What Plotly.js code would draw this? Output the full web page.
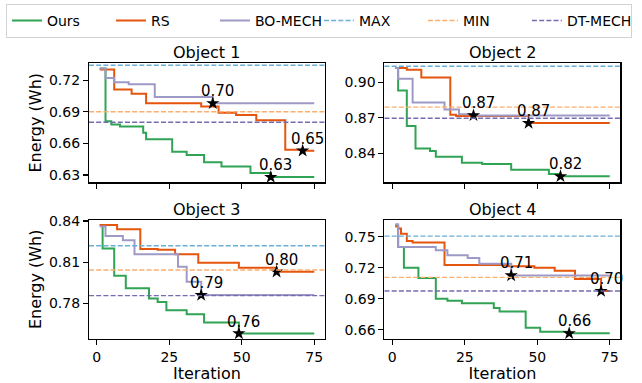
<!DOCTYPE html>
<html><head><meta charset="utf-8">
<script src="https://cdn.plot.ly/plotly-3.0.1.min.js"></script>
<style>html,body{margin:0;padding:0;background:#fff}#chart{width:642px;height:383px}</style>
</head><body><div id="chart"></div>
<script>
// ---- data ----
const objectNames = ['Object 1', 'Object 2', 'Object 3', 'Object 4'];
const iterTicks = [0, 25, 50, 75];

// Ours: iteration where best-so-far changes, and its energy (Wh)
const oursIter = [
  [1, 3, 5, 8, 16, 17, 26, 31, 37, 43, 53, 60, 75],
  [1, 2, 5, 8, 13, 15, 24, 31, 41, 54, 58, 75],
  [1, 2, 6, 10, 18, 21, 24, 31, 37, 49, 75],
  [1, 2, 4, 9, 15, 19, 24, 35, 37, 46, 51, 61, 75]
];
const oursEnergy = [
  [0.731, 0.681, 0.678, 0.676, 0.670, 0.664, 0.652, 0.649, 0.642, 0.638, 0.632, 0.628, 0.628],
  [0.912, 0.893, 0.863, 0.844, 0.842, 0.837, 0.832, 0.831, 0.826, 0.8225, 0.8205, 0.8205],
  [0.837, 0.820, 0.800, 0.791, 0.7835, 0.781, 0.775, 0.772, 0.766, 0.758, 0.758],
  [0.761, 0.740, 0.720, 0.710, 0.690, 0.688, 0.6855, 0.681, 0.6775, 0.662, 0.658, 0.6565, 0.6565]
];
// RS
const rsIter = [
  [1, 6, 12, 17, 36, 42, 48, 55, 65, 71, 75],
  [1, 5, 10, 20, 22, 47, 75],
  [1, 7, 15, 21, 27, 35, 49, 62, 75],
  [1, 2, 3, 5, 7, 18, 40, 49, 56, 63, 72, 75]
];
const rsEnergy = [
  [0.730, 0.711, 0.707, 0.698, 0.695, 0.689, 0.687, 0.682, 0.654, 0.653, 0.653],
  [0.912, 0.9105, 0.904, 0.8725, 0.8715, 0.8655, 0.8655],
  [0.837, 0.834, 0.8196, 0.819, 0.8157, 0.8096, 0.806, 0.803, 0.803],
  [0.760, 0.758, 0.753, 0.746, 0.7445, 0.7226, 0.7215, 0.720, 0.717, 0.709, 0.6974, 0.6974]
];
// BO-MECH
const boIter = [
  [1, 3, 6, 11, 20, 40, 75],
  [1, 2, 7, 18, 23, 28, 75],
  [1, 3, 9, 13, 28, 31, 36, 75],
  [1, 2, 15, 19, 26, 30, 41, 75]
];
const boEnergy = [
  [0.731, 0.722, 0.718, 0.716, 0.704, 0.698, 0.698],
  [0.912, 0.903, 0.883, 0.877, 0.873, 0.872, 0.872],
  [0.836, 0.829, 0.826, 0.8157, 0.8067, 0.7958, 0.786, 0.786],
  [0.762, 0.740, 0.737, 0.732, 0.7295, 0.7238, 0.7125, 0.7125]
];
// reference levels
const maxLevel = [0.734, 0.9135, 0.822, 0.7506];
const minLevel = [0.690, 0.879, 0.8043, 0.7107];
const dtLevel  = [0.680, 0.8696, 0.7856, 0.6974];
const energyTicks = [
  [0.63, 0.66, 0.69, 0.72],
  [0.84, 0.87, 0.90],
  [0.78, 0.81, 0.84],
  [0.66, 0.69, 0.72, 0.75]
];

// ---- style / layout ----
const FONT = 'DejaVu Sans, Verdana, sans-serif';
const C = {ours: '#31a354', rs: '#e6550d', bo: '#9e9ac8', max: '#6baed6', min: '#fdae6b', dt: '#756bb1'};
const xRange = [-2.7, 78.7];
const yRanges = [[0.6229, 0.7362], [0.8153, 0.9163], [0.754, 0.841], [0.651, 0.7666]];
const xDomains = [[0.1386, 0.5062], [0.5989, 0.9665]];
const yDomains = [[0.5235, 0.8355], [0.1149, 0.4266]];

const traces = [];
const shapes = [];
const annotations = [];
const layout = {
  width: 642, height: 383,
  margin: {l: 0, r: 0, t: 0, b: 0},
  paper_bgcolor: '#fff', plot_bgcolor: '#fff',
  font: {family: FONT, size: 14, color: '#000'},
  showlegend: true,
  legend: {
    orientation: 'h', x: 0.0093, y: 0.99, xanchor: 'left', yanchor: 'top',
    bordercolor: '#d3d3d3', borderwidth: 1, bgcolor: 'rgba(255,255,255,0.8)',
    font: {family: FONT, size: 14, color: '#000'}, itemwidth: 30, traceorder: 'normal',
    entrywidth: 59, entrywidthmode: 'pixels'
  }
};

function bestPoint(it, en) {
  let bi = 0;
  for (let i = 1; i < en.length; i++) if (en[i] < en[bi]) bi = i;
  return [it[bi], en[bi]];
}

for (let k = 0; k < 4; k++) {
  const n = k === 0 ? '' : String(k + 1);
  const col = k % 2, row = Math.floor(k / 2);
  const xa = 'x' + n, ya = 'y' + n;
  layout['xaxis' + n] = {
    domain: xDomains[col], range: xRange, anchor: ya,
    tickvals: iterTicks, showticklabels: row === 1,
    ticks: 'outside', ticklen: 5, tickwidth: 1.1, tickcolor: '#000',
    showline: true, mirror: true, linecolor: '#000', linewidth: 1.1,
    showgrid: false, zeroline: false,
    tickfont: {family: FONT, size: 14, color: '#000'},
    title: row === 1 ? {text: 'Iteration', font: {family: FONT, size: 16, color: '#000'}, standoff: 1} : {text: ''}
  };
  layout['yaxis' + n] = {
    domain: yDomains[row], range: yRanges[k], anchor: xa,
    tickvals: energyTicks[k], tickformat: '.2f',
    ticks: 'outside', ticklen: 5, tickwidth: 1.1, tickcolor: '#000',
    showline: true, mirror: true, linecolor: '#000', linewidth: 1.1,
    showgrid: false, zeroline: false,
    tickfont: {family: FONT, size: 14, color: '#000'},
    title: col === 0 ? {text: 'Energy (Wh)', font: {family: FONT, size: 16, color: '#000'}, standoff: 3} : {text: ''}
  };
  const series = [
    ['Ours', oursIter[k], oursEnergy[k], C.ours],
    ['RS', rsIter[k], rsEnergy[k], C.rs],
    ['BO-MECH', boIter[k], boEnergy[k], C.bo]
  ];
  series.forEach((s, si) => {
    traces.push({
      type: 'scatter', mode: 'lines', name: s[0], x: s[1], y: s[2],
      xaxis: xa, yaxis: ya, line: {color: s[3], width: 2, shape: 'hv'},
      showlegend: k === 0, legendgroup: s[0], legendrank: si + 1, hoverinfo: 'skip'
    });
  });
  const bx = [], by = [];
  series.forEach(s => {
    const b = bestPoint(s[1], s[2]);
    bx.push(b[0]); by.push(b[1]);
    annotations.push({
      xref: xa, yref: ya, x: b[0], y: b[1], text: b[1].toFixed(2), showarrow: false,
      xshift: 5, yshift: 12, font: {family: FONT, size: 15, color: '#000'}
    });
  });
  traces.push({
    type: 'scatter', mode: 'markers', x: bx, y: by, xaxis: xa, yaxis: ya,
    marker: {symbol: 'star', size: 10, color: '#000'}, showlegend: false, hoverinfo: 'skip'
  });
  const levels = [['MAX', maxLevel[k], C.max], ['MIN', minLevel[k], C.min], ['DT-MECH', dtLevel[k], C.dt]];
  levels.forEach((l, li) => {
    shapes.push({
      type: 'line', xref: xa + ' domain', x0: 0, x1: 1, yref: ya, y0: l[1], y1: l[1],
      line: {color: l[2], width: 1.4, dash: '5px,2.2px'}, layer: 'above',
      showlegend: k === 0, name: l[0], legendrank: 4 + li
    });
  });
  annotations.push({
    xref: xa + ' domain', yref: ya + ' domain', x: 0.5, y: 1, yanchor: 'bottom',
    text: objectNames[k], showarrow: false, yshift: -1,
    font: {family: FONT, size: 16, color: '#000'}
  });
}
layout.shapes = shapes;
layout.annotations = annotations;
Plotly.newPlot('chart', traces, layout, {displayModeBar: false, staticPlot: true});
</script>
</body></html>
